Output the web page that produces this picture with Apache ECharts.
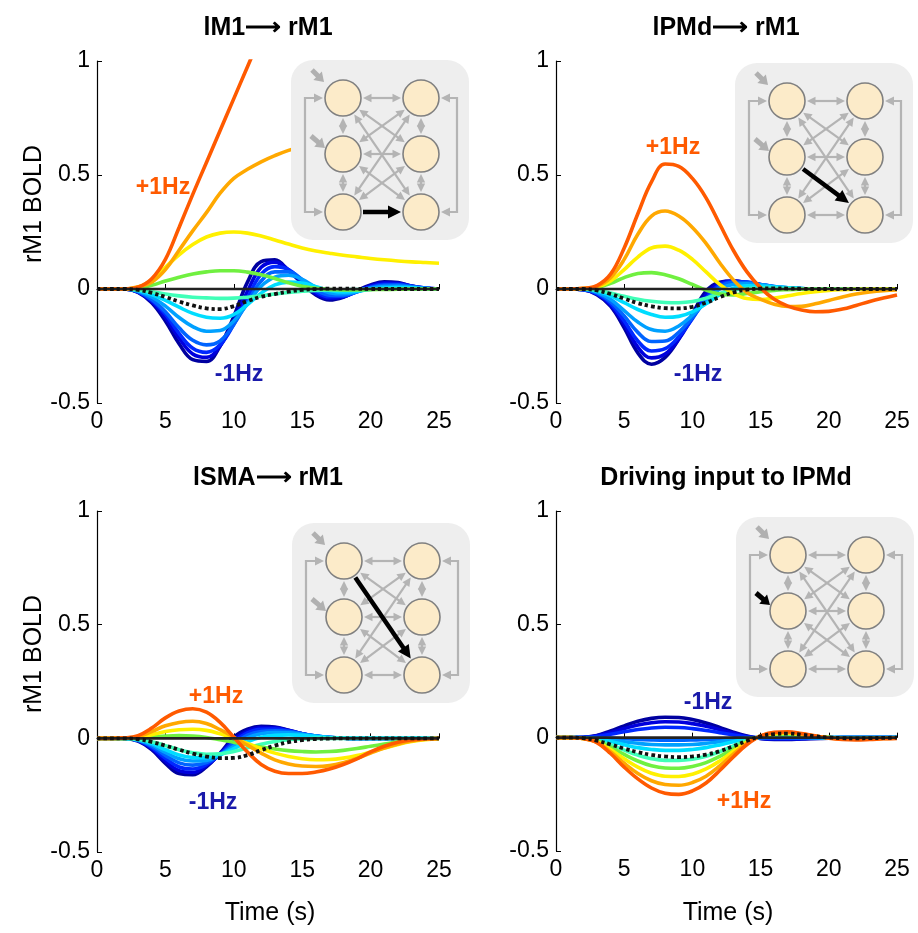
<!DOCTYPE html>
<html>
<head>
<meta charset="utf-8">
<script src="https://cdn.jsdelivr.net/npm/echarts@6/dist/echarts.min.js"></script>
<style>
  html, body { margin: 0; padding: 0; background: #fff; }
  #main { width: 918px; height: 933px; }
</style>
</head>
<body>
<div id="main"></div>
<script>
// time axis shared by all panels (s)
var times = [0,1,2,3,4,5,6,7,8,9,10,11,12,13,14,15,16,17,18,19,20,21,22,23,24,25];

// modulation levels, -1Hz ... +1Hz, one colour each (jet-like)
var jetColors = ['#0000A0','#0000DD','#0028FF','#0064FF','#00A0FF','#00DDFF','#40FFB8','#70F040','#FFF000','#FFA800','#FF5A00'];

// lM1 -> rM1
var lm1Hz = [
  [0,0,0,-0.015,-0.06,-0.14,-0.24,-0.31,-0.318,-0.25,-0.12,0.03,0.12,0.128,0.08,0.025,-0.026,-0.048,-0.036,-0.007,0.018,0.032,0.028,0.013,0.003,0],
  [0,0,0,-0.013,-0.055,-0.125,-0.215,-0.285,-0.3,-0.25,-0.14,-0.01,0.095,0.118,0.085,0.03,-0.02,-0.041,-0.035,-0.01,0.014,0.027,0.025,0.013,0.004,0],
  [0,0,0,-0.012,-0.05,-0.11,-0.195,-0.26,-0.278,-0.245,-0.155,-0.04,0.065,0.098,0.085,0.037,-0.012,-0.034,-0.032,-0.012,0.01,0.021,0.021,0.012,0.004,0],
  [0,0,0,-0.011,-0.045,-0.1,-0.17,-0.225,-0.245,-0.228,-0.155,-0.058,0.035,0.075,0.075,0.042,-0.004,-0.027,-0.028,-0.012,0.007,0.016,0.017,0.011,0.003,0],
  [0,0,0,-0.009,-0.035,-0.075,-0.125,-0.165,-0.185,-0.182,-0.14,-0.065,0.012,0.052,0.06,0.042,0.008,-0.016,-0.021,-0.012,0.003,0.011,0.012,0.008,0.002,0],
  [0,0,0,-0.006,-0.024,-0.05,-0.08,-0.107,-0.124,-0.128,-0.112,-0.068,-0.018,0.018,0.03,0.026,0.01,-0.006,-0.013,-0.01,-0.002,0.004,0.006,0.005,0.002,0],
  [0,0,0,-0.004,-0.012,-0.022,-0.03,-0.036,-0.039,-0.041,-0.04,-0.036,-0.03,-0.022,-0.015,-0.01,-0.006,-0.004,-0.003,-0.002,-0.001,0,0,0,0,0],
  [0,0,0,0.004,0.016,0.035,0.052,0.066,0.075,0.08,0.08,0.074,0.062,0.046,0.027,0.012,0.003,-0.002,-0.004,-0.004,-0.003,-0.002,-0.001,0,0,0],
  [0,0,0,0.008,0.04,0.095,0.15,0.195,0.228,0.245,0.25,0.245,0.232,0.215,0.197,0.18,0.167,0.157,0.148,0.141,0.134,0.128,0.123,0.119,0.116,0.113],
  [0,0,0,0.01,0.03,0.085,0.17,0.255,0.335,0.42,0.485,0.525,0.558,0.585,0.608,0.625,0.64,0.65,0.658,0.665,0.67,0.674,0.677,0.68,0.682,0.684],
  [0,0,0,0.008,0.045,0.13,0.27,0.415,0.555,0.695,0.835,0.975,1.115,1.255,null,null,null,null,null,null,null,null,null,null,null,null]
];
var lm1Base = [0,0,0,-0.004,-0.017,-0.035,-0.055,-0.072,-0.085,-0.088,-0.075,-0.053,-0.034,-0.022,-0.012,-0.004,0,0.002,0.002,0.001,0,0,0,0,0,0];

// lPMd -> rM1
var lpmdHz = [
  [0,0,-0.003,-0.025,-0.075,-0.17,-0.28,-0.33,-0.3,-0.22,-0.11,-0.01,0.03,0.035,0.028,0.018,0.008,0.002,0,0,0,0,0,0,0,0],
  [0,0,-0.003,-0.022,-0.07,-0.155,-0.255,-0.302,-0.285,-0.22,-0.125,-0.025,0.025,0.035,0.029,0.019,0.009,0.003,0,0,0,0,0,0,0,0],
  [0,0,-0.002,-0.02,-0.063,-0.14,-0.228,-0.272,-0.262,-0.21,-0.13,-0.04,0.018,0.033,0.03,0.02,0.01,0.004,0.001,0,0,0,0,0,0,0],
  [0,0,-0.002,-0.017,-0.055,-0.118,-0.19,-0.23,-0.228,-0.19,-0.125,-0.05,0.01,0.028,0.028,0.02,0.011,0.005,0.002,0,0,0,0,0,0,0],
  [0,0,-0.001,-0.013,-0.045,-0.095,-0.145,-0.178,-0.185,-0.162,-0.115,-0.055,0,0.02,0.023,0.018,0.011,0.005,0.002,0,0,0,0,0,0,0],
  [0,0,-0.001,-0.009,-0.03,-0.06,-0.09,-0.112,-0.124,-0.12,-0.1,-0.065,-0.025,0.004,0.014,0.013,0.009,0.005,0.002,0,0,0,0,0,0,0],
  [0,0,0,-0.005,-0.018,-0.032,-0.045,-0.054,-0.059,-0.06,-0.055,-0.04,-0.02,-0.005,0.002,0.004,0.003,0.002,0.001,0,0,0,0,0,0,0],
  [0,0,0.001,0.006,0.025,0.05,0.068,0.072,0.063,0.045,0.02,-0.005,-0.022,-0.026,-0.02,-0.012,-0.006,-0.003,-0.001,0,0,0,0,0,0,0],
  [0,0,0.002,0.008,0.035,0.085,0.14,0.18,0.188,0.17,0.13,0.075,0.02,-0.02,-0.042,-0.046,-0.04,-0.03,-0.02,-0.012,-0.006,-0.003,-0.001,0,0,0],
  [0,0,0.002,0.012,0.05,0.13,0.24,0.32,0.342,0.32,0.27,0.2,0.115,0.04,-0.015,-0.045,-0.067,-0.077,-0.076,-0.065,-0.05,-0.035,-0.022,-0.013,-0.007,-0.004],
  [0,0,0.003,0.015,0.065,0.18,0.33,0.47,0.548,0.538,0.485,0.4,0.285,0.17,0.075,0.005,-0.045,-0.075,-0.092,-0.1,-0.098,-0.088,-0.072,-0.055,-0.04,-0.026]
];
var lpmdBase = [0,0,0,-0.006,-0.022,-0.042,-0.062,-0.076,-0.084,-0.085,-0.078,-0.06,-0.036,-0.015,-0.003,0.002,0.003,0.002,0.001,0,0,0,0,0,0,0];

// lSMA -> rM1
var lsmaHz = [
  [0,0,0,-0.012,-0.05,-0.11,-0.155,-0.16,-0.125,-0.065,0.005,0.04,0.053,0.05,0.036,0.02,0.009,0.003,0.001,0,0,0,0,0,0,0],
  [0,0,0,-0.01,-0.045,-0.1,-0.142,-0.15,-0.12,-0.068,-0.005,0.032,0.047,0.046,0.035,0.02,0.009,0.003,0.001,0,0,0,0,0,0,0],
  [0,0,0,-0.009,-0.04,-0.088,-0.126,-0.135,-0.115,-0.07,-0.015,0.024,0.04,0.041,0.033,0.02,0.01,0.004,0.001,0,0,0,0,0,0,0],
  [0,0,0,-0.008,-0.034,-0.075,-0.108,-0.118,-0.107,-0.072,-0.025,0.014,0.03,0.033,0.03,0.02,0.01,0.004,0.001,0,0,0,0,0,0,0],
  [0,0,0,-0.007,-0.028,-0.062,-0.09,-0.1,-0.097,-0.072,-0.035,0.002,0.02,0.025,0.024,0.018,0.01,0.004,0.001,0,0,0,0,0,0,0],
  [0,0,0,-0.006,-0.022,-0.05,-0.073,-0.084,-0.085,-0.072,-0.045,-0.015,0.005,0.013,0.015,0.013,0.008,0.004,0.001,0,0,0,0,0,0,0],
  [0,0,0,-0.004,-0.015,-0.032,-0.05,-0.063,-0.07,-0.068,-0.058,-0.042,-0.026,-0.014,-0.006,-0.002,0,0,0,0,0,0,0,0,0,0],
  [0,0,0,0.002,0.006,0.01,0.012,0.01,0.004,-0.006,-0.017,-0.028,-0.038,-0.047,-0.054,-0.058,-0.06,-0.058,-0.053,-0.045,-0.035,-0.025,-0.015,-0.008,-0.003,0],
  [0,0,0,0.005,0.016,0.03,0.038,0.04,0.035,0.02,0,-0.022,-0.045,-0.065,-0.08,-0.09,-0.094,-0.093,-0.087,-0.076,-0.06,-0.043,-0.027,-0.014,-0.006,-0.002],
  [0,0,0.001,0.008,0.03,0.055,0.07,0.075,0.065,0.038,0.005,-0.03,-0.065,-0.095,-0.113,-0.122,-0.124,-0.12,-0.107,-0.088,-0.065,-0.043,-0.025,-0.012,-0.004,0],
  [0,0,0.002,0.012,0.045,0.09,0.12,0.13,0.115,0.07,0.005,-0.06,-0.115,-0.145,-0.155,-0.155,-0.148,-0.135,-0.115,-0.09,-0.06,-0.035,-0.017,-0.007,-0.002,0]
];
var lsmaBase = [0,0,0,-0.004,-0.016,-0.032,-0.05,-0.067,-0.08,-0.087,-0.086,-0.074,-0.052,-0.032,-0.017,-0.008,-0.003,-0.001,0,0,0,0,0,0,0,0];

// driving input to lPMd
var driveHz = [
  [0,0,0.002,0.01,0.03,0.052,0.072,0.085,0.09,0.089,0.08,0.065,0.045,0.024,0.007,-0.004,-0.008,-0.008,-0.006,-0.004,-0.002,0,0,0,0,0],
  [0,0,0.001,0.008,0.023,0.04,0.056,0.066,0.07,0.069,0.062,0.05,0.035,0.019,0.005,-0.003,-0.006,-0.006,-0.005,-0.003,-0.001,0,0,0,0,0],
  [0,0,0.001,0.005,0.015,0.026,0.036,0.043,0.046,0.045,0.04,0.032,0.022,0.012,0.003,-0.002,-0.004,-0.004,-0.003,-0.002,-0.001,0,0,0,0,0],
  [0,0,0,0,-0.002,-0.005,-0.008,-0.01,-0.011,-0.011,-0.01,-0.008,-0.006,-0.003,-0.001,0,0,0,0,0,0,0,0,0,0,0],
  [0,0,-0.001,-0.004,-0.01,-0.018,-0.025,-0.03,-0.032,-0.032,-0.03,-0.025,-0.018,-0.01,-0.003,0.001,0.002,0.002,0.001,0,0,0,0,0,0,0],
  [0,0,-0.001,-0.006,-0.017,-0.031,-0.044,-0.052,-0.056,-0.056,-0.052,-0.044,-0.032,-0.018,-0.006,0.002,0.005,0.005,0.003,0.001,0,0,0,0,0,0],
  [0,0,-0.002,-0.012,-0.032,-0.055,-0.077,-0.093,-0.1,-0.1,-0.095,-0.082,-0.062,-0.036,-0.012,0.004,0.012,0.013,0.009,0.004,0,-0.002,-0.003,-0.002,-0.001,0],
  [0,0,-0.003,-0.015,-0.042,-0.074,-0.103,-0.124,-0.134,-0.135,-0.127,-0.11,-0.083,-0.049,-0.017,0.005,0.015,0.017,0.012,0.005,0,-0.003,-0.004,-0.003,-0.002,-0.001],
  [0,0,-0.003,-0.018,-0.052,-0.093,-0.13,-0.157,-0.17,-0.171,-0.161,-0.138,-0.103,-0.06,-0.02,0.006,0.018,0.02,0.014,0.006,0,-0.004,-0.005,-0.004,-0.002,-0.001],
  [0,0,-0.004,-0.02,-0.062,-0.113,-0.158,-0.19,-0.207,-0.21,-0.198,-0.17,-0.125,-0.073,-0.025,0.007,0.021,0.023,0.016,0.007,-0.001,-0.006,-0.007,-0.006,-0.004,-0.002],
  [0,0,-0.004,-0.022,-0.07,-0.13,-0.182,-0.222,-0.245,-0.25,-0.235,-0.2,-0.145,-0.085,-0.03,0.008,0.024,0.026,0.018,0.008,-0.002,-0.008,-0.01,-0.008,-0.005,-0.003]
];
var driveBase = [0,0,-0.002,-0.013,-0.03,-0.048,-0.064,-0.076,-0.083,-0.086,-0.083,-0.075,-0.06,-0.038,-0.014,0.006,0.016,0.018,0.013,0.006,0.001,-0.002,-0.003,-0.002,-0.001,0];

var panelTitles = ['lM1\u27F6 rM1', 'lPMd\u27F6 rM1', 'lSMA\u27F6 rM1', 'Driving input to lPMd'];

var panels = [
  { hz: lm1Hz,   base: lm1Base,   grid: {left: 97,  top: 61,  width: 342, height: 342}, box: [291, 60],  hi: {edge: [2, 2]} },
  { hz: lpmdHz,  base: lpmdBase,  grid: {left: 556, top: 61,  width: 341, height: 342}, box: [735, 63],  hi: {edge: [1, 2]} },
  { hz: lsmaHz,  base: lsmaBase,  grid: {left: 97,  top: 511, width: 342, height: 341}, box: [292, 523], hi: {edge: [0, 2]} },
  { hz: driveHz, base: driveBase, grid: {left: 556, top: 511, width: 341, height: 340}, box: [736, 517], hi: {input: 1} }
];

var FONT = '"Liberation Sans", Arial, Helvetica, sans-serif';

var grids = [], xAxes = [], yAxes = [], series = [];
panels.forEach(function (p, k) {
  grids.push(p.grid);
  xAxes.push({
    type: 'value', gridIndex: k, min: 0, max: 25, interval: 5,
    axisLine: {show: true, lineStyle: {color: '#000', width: 1.2}},
    axisTick: {show: true, inside: true, length: 5, lineStyle: {color: '#000'}},
    axisLabel: {fontSize: 23, color: '#000', margin: 7, fontFamily: FONT},
    splitLine: {show: false}
  });
  yAxes.push({
    type: 'value', gridIndex: k, min: -0.5, max: 1, interval: 0.5,
    axisLine: {show: true, lineStyle: {color: '#000', width: 1.2}},
    axisTick: {show: true, inside: true, length: 5, lineStyle: {color: '#000'}},
    axisLabel: {fontSize: 23, color: '#000', margin: 7, fontFamily: FONT},
    splitLine: {show: false}
  });
  p.hz.forEach(function (arr, i) {
    series.push({
      type: 'line', xAxisIndex: k, yAxisIndex: k, smooth: 0.4, showSymbol: false, silent: true,
      z: 2 + i * 0.01,
      data: times.map(function (t, j) { return [t, arr[j]]; }),
      lineStyle: {color: jetColors[i], width: 3.6}
    });
  });
  // solid zero line
  series.push({
    type: 'line', xAxisIndex: k, yAxisIndex: k, showSymbol: false, silent: true, z: 3,
    data: [[0, 0], [25, 0]],
    lineStyle: {color: '#222', width: 2.6}
  });
  // dotted reference curve
  series.push({
    type: 'line', xAxisIndex: k, yAxisIndex: k, smooth: 0.4, showSymbol: false, silent: true, z: 4,
    data: times.map(function (t, j) { return [t, p.base[j]]; }),
    lineStyle: {color: '#111', width: 3.8, type: [3.5, 3]}
  });
});

// ---- network insets ----
var G = [];
function head(tx, ty, ux, uy, hl, hw, color) {
  var bx = tx - ux * hl, by = ty - uy * hl;
  return {type: 'polygon', z: 101, silent: true,
    shape: {points: [[tx, ty], [bx - uy * hw, by + ux * hw], [bx + uy * hw, by - ux * hw]]},
    style: {fill: color}};
}
function arrow(x1, y1, x2, y2, color, w, both, hl, hw) {
  var dx = x2 - x1, dy = y2 - y1, L = Math.sqrt(dx * dx + dy * dy), ux = dx / L, uy = dy / L;
  G.push({type: 'line', z: 101, silent: true,
    shape: {x1: both ? x1 + ux * hl * 0.7 : x1, y1: both ? y1 + uy * hl * 0.7 : y1,
            x2: x2 - ux * hl * 0.7, y2: y2 - uy * hl * 0.7},
    style: {stroke: color, lineWidth: w}});
  G.push(head(x2, y2, ux, uy, hl, hw, color));
  if (both) G.push(head(x1, y1, -ux, -uy, hl, hw, color));
}
function inset(bx, by, hi) {
  var R = 18, rowsY = [38, 94, 152], gray = '#B4B4B4';
  function pos(c, r) { return [bx + (c ? 130 : 52), by + rowsY[r]]; }
  G.push({type: 'rect', z: 100, silent: true, shape: {x: bx, y: by, width: 178, height: 180, r: 22}, style: {fill: '#EEEEEE'}});
  // loops on the outer sides
  var c1 = pos(0, 0), c3 = pos(0, 2), d1 = pos(1, 0), d3 = pos(1, 2);
  G.push({type: 'polyline', z: 101, silent: true,
    shape: {points: [[c1[0] - R - 8, c1[1]], [bx + 14, c1[1]], [bx + 14, c3[1]], [c3[0] - R - 8, c3[1]]]},
    style: {stroke: gray, lineWidth: 2.2, fill: null}});
  G.push(head(c1[0] - R - 2, c1[1], 1, 0, 9, 4.5, gray));
  G.push(head(c3[0] - R - 2, c3[1], 1, 0, 9, 4.5, gray));
  G.push({type: 'polyline', z: 101, silent: true,
    shape: {points: [[d1[0] + R + 8, d1[1]], [bx + 166, d1[1]], [bx + 166, d3[1]], [d3[0] + R + 8, d3[1]]]},
    style: {stroke: gray, lineWidth: 2.2, fill: null}});
  G.push(head(d1[0] + R + 2, d1[1], -1, 0, 9, 4.5, gray));
  G.push(head(d3[0] + R + 2, d3[1], -1, 0, 9, 4.5, gray));
  // connections
  var edges = [];
  for (var r = 0; r < 3; r++) edges.push([[0, r], [1, r]]);
  for (var c = 0; c < 2; c++) { edges.push([[c, 0], [c, 1]]); edges.push([[c, 1], [c, 2]]); }
  for (var a = 0; a < 3; a++) for (var b = 0; b < 3; b++) if (a !== b) edges.push([[0, a], [1, b]]);
  var black = null;
  edges.forEach(function (e) {
    var A = pos(e[0][0], e[0][1]), B = pos(e[1][0], e[1][1]);
    var dx = B[0] - A[0], dy = B[1] - A[1], L = Math.sqrt(dx * dx + dy * dy), ux = dx / L, uy = dy / L;
    var s = [A[0] + ux * (R + 2), A[1] + uy * (R + 2)], t = [B[0] - ux * (R + 2), B[1] - uy * (R + 2)];
    if (hi.edge && e[0][0] === 0 && e[1][0] === 1 && e[0][1] === hi.edge[0] && e[1][1] === hi.edge[1]) {
      black = [s, t];
    } else {
      arrow(s[0], s[1], t[0], t[1], gray, 2.2, true, 8.5, 4.2);
    }
  });
  // driving inputs
  [0, 1].forEach(function (r) {
    var P = pos(0, r);
    var isHi = hi.input === r;
    var off = r === 0 ? [-31, -28, -19, -16] : [-32, -18, -18, -6];
    arrow(P[0] + off[0], P[1] + off[1], P[0] + off[2], P[1] + off[3], isHi ? '#000' : '#B0B0B0', 5, false, 9, 6);
  });
  if (black) arrow(black[0][0], black[0][1], black[1][0], black[1][1], '#000', 4.5, false, 13, 6.5);
  for (var cc = 0; cc < 2; cc++) for (var rr = 0; rr < 3; rr++) {
    var q = pos(cc, rr);
    G.push({type: 'circle', z: 102, silent: true, shape: {cx: q[0], cy: q[1], r: R},
      style: {fill: '#FCEBC9', stroke: '#808080', lineWidth: 1.6}});
  }
}
panels.forEach(function (p) { inset(p.box[0], p.box[1], p.hi); });

// ---- texts ----
function txt(s, x, y, font, color, rot) {
  G.push({type: 'text', z: 110, silent: true, x: x, y: y, rotation: rot || 0,
    style: {text: s, font: font, fill: color, align: 'center', verticalAlign: 'middle',
            textAlign: 'center', textVerticalAlign: 'middle'}});
}
var titleFont = 'bold 25px ' + FONT;
txt(panelTitles[0], 268, 28, titleFont, '#000');
txt(panelTitles[1], 726, 28, titleFont, '#000');
txt(panelTitles[2], 268, 478, titleFont, '#000');
txt(panelTitles[3], 726, 478, titleFont, '#000');
var labFont = '25px ' + FONT;
txt('rM1 BOLD', 34, 204, labFont, '#000', Math.PI / 2);
txt('rM1 BOLD', 34, 654, labFont, '#000', Math.PI / 2);
txt('Time (s)', 270, 913, labFont, '#000');
txt('Time (s)', 728, 913, labFont, '#000');
var hzFont = 'bold 23px ' + FONT, plusC = '#FF5A00', minusC = '#1A1AAA';
txt('+1Hz', 163, 188, hzFont, plusC);
txt('-1Hz', 239, 375, hzFont, minusC);
txt('+1Hz', 673, 148, hzFont, plusC);
txt('-1Hz', 698, 375, hzFont, minusC);
txt('+1Hz', 216, 697, hzFont, plusC);
txt('-1Hz', 213, 803, hzFont, minusC);
txt('-1Hz', 708, 703, hzFont, minusC);
txt('+1Hz', 744, 802, hzFont, plusC);

var chart = echarts.init(document.getElementById('main'), null, {renderer: 'canvas'});
chart.setOption({
  animation: false,
  backgroundColor: '#fff',
  textStyle: {fontFamily: FONT},
  grid: grids,
  xAxis: xAxes,
  yAxis: yAxes,
  series: series,
  graphic: {elements: G}
});
</script>
</body>
</html>
